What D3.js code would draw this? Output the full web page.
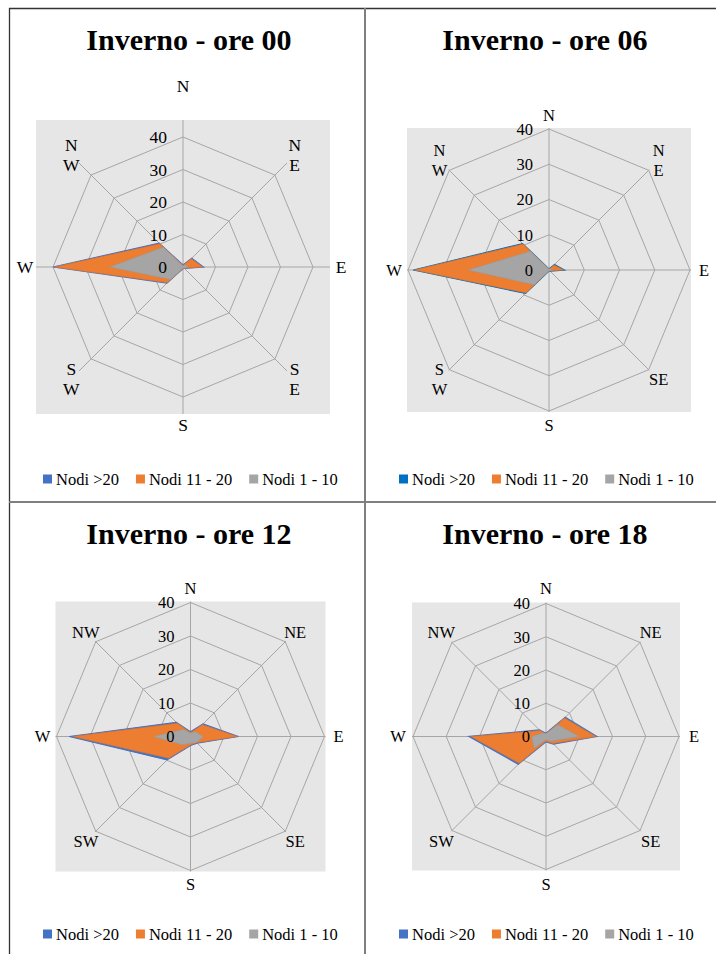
<!DOCTYPE html>
<html>
<head>
<meta charset="utf-8">
<script src="https://cdn.jsdelivr.net/npm/d3@7"></script>
<style>
  html, body { margin: 0; padding: 0; background: #ffffff; }
  svg { display: block; }
  text { font-family: "Liberation Serif", "Times New Roman", serif; fill: #000; }
</style>
</head>
<body>
<svg id="rose" width="716" height="954"></svg>
<script>
// Wind directions, clockwise from north
const directions = ["N", "NE", "E", "SE", "S", "SW", "W", "NW"];
const seriesNames = ["Nodi >20", "Nodi 11 - 20", "Nodi 1 - 10"];
const titles = ["Inverno - ore 00", "Inverno - ore 06", "Inverno - ore 12", "Inverno - ore 18"];
const radialTicks = [0, 10, 20, 30, 40];

// Frequencies (%) per direction, N..NW
const ore00Over20 = [0.6, 3.8, 6.3, 0.6, 0.5, 7.0, 40.0, 10.4];
const ore00Mid    = [0.5, 3.6, 6.1, 0.5, 0.4, 6.8, 39.6, 10.1];
const ore00Low    = [0.3, 1.0, 1.5, 0.5, 0.3, 5.4, 22.5, 8.6];

const ore06Over20 = [0.3, 2.2, 4.4, 0.5, 0.3, 9.4, 38.5, 10.6];
const ore06Mid    = [0.2, 2.0, 4.2, 0.4, 0.2, 9.2, 38.2, 10.4];
const ore06Low    = [0.2, 0.5, 1.0, 0.3, 0.2, 5.9, 23.0, 7.5];

const ore12Over20 = [1.4, 5.3, 14.3, 2.8, 2.7, 9.9, 36.2, 6.0];
const ore12Mid    = [1.2, 5.0, 14.0, 2.6, 2.5, 9.2, 35.2, 5.6];
const ore12Low    = [1.0, 2.0, 3.8, 2.5, 2.0, 3.5, 11.0, 3.0];

const ore18Over20 = [1.0, 8.2, 15.3, 3.2, 1.6, 11.8, 23.2, 2.8];
const ore18Mid    = [0.8, 7.9, 15.0, 3.0, 1.4, 11.4, 22.6, 2.5];
const ore18Low    = [0.8, 5.0, 10.0, 2.0, 1.0, 5.0, 4.3, 1.5];

const seriesByPanel = [
  [ore00Over20, ore00Mid, ore00Low],
  [ore06Over20, ore06Mid, ore06Low],
  [ore12Over20, ore12Mid, ore12Low],
  [ore18Over20, ore18Mid, ore18Low]
];

// Panel geometry
const panels = [
  { left: 9,   cx: 183,   cy: 267,   r: 130, pad: 17, titleY: 50,  legendY: 479, labelR: 158, nLift: 23, stacked: ["NE", "SE", "SW", "NW"], fs: 17.5, blue: "#4472C4" },
  { left: 365, cx: 549,   cy: 270,   r: 141, pad: 1,  titleY: 50,  legendY: 479, labelR: 155, nLift: 0,  stacked: ["NE", "SW", "NW"], fs: 16.5, blue: "#0070C0" },
  { left: 9,   cx: 190.5, cy: 736.5, r: 134, pad: 1,  titleY: 544, legendY: 934, labelR: 148, nLift: 0,  stacked: [], fs: 16.5, blue: "#4472C4" },
  { left: 365, cx: 546,   cy: 736.5, r: 133, pad: 1,  titleY: 544, legendY: 934, labelR: 148, nLift: 0,  stacked: [], fs: 16.5, blue: "#4472C4" }
];

const orange = "#ED7D31";
const grey = "#A5A5A5";
const gridColor = "#A6A6A6";

const svg = d3.select("#rose");

// Page frame: table-like borders
const frame = svg.append("g");
frame.append("line").attr("x1", 9).attr("y1", 8.5).attr("x2", 716).attr("y2", 8.5).attr("stroke", "#333").attr("stroke-width", 1.3);
frame.append("line").attr("x1", 9.5).attr("y1", 8).attr("x2", 9.5).attr("y2", 954).attr("stroke", "#333").attr("stroke-width", 1.3);
frame.append("line").attr("x1", 365).attr("y1", 8).attr("x2", 365).attr("y2", 954).attr("stroke", "#7f7f7f").attr("stroke-width", 2);
frame.append("line").attr("x1", 9).attr("y1", 502).attr("x2", 716).attr("y2", 502).attr("stroke", "#7f7f7f").attr("stroke-width", 2);

const angleStep = 2 * Math.PI / directions.length;

panels.forEach((p, pi) => {
  const g = svg.append("g");
  const rScale = d3.scaleLinear().domain([0, 40]).range([0, p.r]);
  const colors = [p.blue, orange, grey];

  // Plot area background
  const half = p.r + p.pad;
  g.append("rect")
    .attr("x", p.cx - half).attr("y", p.cy - half)
    .attr("width", 2 * half).attr("height", 2 * half)
    .attr("fill", "#E7E6E6");

  const plot = g.append("g").attr("transform", `translate(${p.cx},${p.cy})`);

  // Grid rings
  const ring = d3.lineRadial()
    .angle((d, i) => i * angleStep)
    .radius(d => rScale(d))
    .curve(d3.curveLinearClosed);
  radialTicks.filter(t => t > 0).forEach(t => {
    plot.append("path")
      .attr("d", ring(directions.map(() => t)))
      .attr("fill", "none").attr("stroke", gridColor).attr("stroke-width", 1);
  });

  // Spokes
  directions.forEach((d, i) => {
    const a = i * angleStep;
    const len = p.r + p.pad;
    plot.append("line")
      .attr("x1", 0).attr("y1", 0)
      .attr("x2", len * Math.sin(a)).attr("y2", -len * Math.cos(a))
      .attr("stroke", gridColor).attr("stroke-width", 1);
  });

  // Filled series: >20 behind, then 11-20, then 1-10
  const area = d3.lineRadial()
    .angle((d, i) => i * angleStep)
    .radius(d => rScale(d))
    .curve(d3.curveLinearClosed);
  seriesByPanel[pi].forEach((vals, si) => {
    plot.append("path")
      .attr("d", area(vals))
      .attr("fill", colors[si])
      .attr("stroke", si === 0 ? p.blue : d3.color(colors[si]).darker(0.2))
      .attr("stroke-width", si === 0 ? 1.2 : 0.6)
      .attr("stroke-linejoin", "miter");
  });

  // Radial tick labels along the north spoke
  radialTicks.forEach(t => {
    plot.append("text")
      .attr("x", -16).attr("y", -rScale(t))
      .attr("dy", "0.35em")
      .attr("text-anchor", "end")
      .style("font-size", p.fs + "px")
      .text(t);
  });

  // Direction labels
  directions.forEach((d, i) => {
    const a = i * angleStep;
    let x = p.labelR * Math.sin(a);
    let y = -p.labelR * Math.cos(a);
    if (d === "N") y -= p.nLift;
    const t = plot.append("text")
      .attr("text-anchor", "middle")
      .style("font-size", p.fs + "px");
    if (p.stacked.includes(d)) {
      const chars = d.split("");
      chars.forEach((c, k) => {
        t.append("tspan")
          .attr("x", x)
          .attr("y", y + (k - (chars.length - 1) / 2) * 20)
          .attr("dy", "0.35em")
          .text(c);
      });
    } else {
      t.attr("x", x).attr("y", y).attr("dy", "0.35em").text(d);
    }
  });

  // Title
  g.append("text")
    .attr("x", p.left + 180).attr("y", p.titleY)
    .attr("text-anchor", "middle")
    .style("font-size", "30px").style("font-weight", "bold")
    .text(titles[pi]);

  // Legend
  const lg = g.append("g").attr("transform", `translate(${p.left + 34},${p.legendY})`);
  let xOff = 0;
  seriesNames.forEach((name, si) => {
    lg.append("rect")
      .attr("x", xOff).attr("y", -4.5)
      .attr("width", 9).attr("height", 9)
      .attr("fill", colors[si]);
    const txt = lg.append("text")
      .attr("x", xOff + 13).attr("y", 0).attr("dy", "0.35em")
      .style("font-size", "16.5px")
      .text(name);
    xOff += 13 + txt.node().getComputedTextLength() + 17;
  });
});
</script>
</body>
</html>
